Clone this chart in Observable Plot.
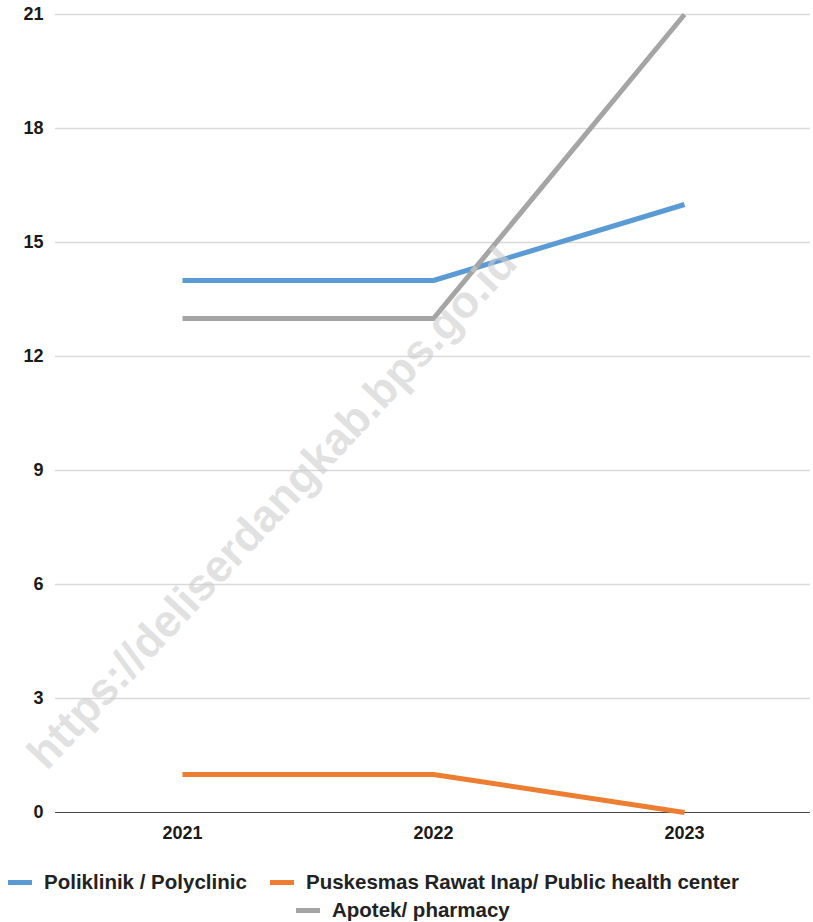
<!DOCTYPE html>
<html>
<head>
<meta charset="utf-8">
<script src="https://cdn.jsdelivr.net/npm/d3@7"></script>
<script src="https://cdn.jsdelivr.net/npm/@observablehq/plot@0.6"></script>
<style>
  html, body { margin: 0; padding: 0; background: #fff; }
  body { width: 813px; height: 922px; position: relative; overflow: hidden; font-family: "Liberation Sans", Arial, sans-serif; }
  #chart { position: absolute; left: 0; top: 0; }
  .item { position: absolute; display: flex; align-items: center; white-space: nowrap; font-weight: bold; font-size: 20.5px; color: #222; height: 26px; }
  .sw { width: 24px; height: 5px; margin-right: 12px; }
  #wm { position: absolute; left: 272px; top: 508px; transform: translate(-50%, -50%) rotate(-47deg);
        font-size: 45px; font-weight: bold; color: rgba(205,205,205,0.6); white-space: nowrap; font-family: "Liberation Sans", Arial, sans-serif; }
</style>
</head>
<body>
<div id="chart"></div>
<div id="legend"></div>
<div id="wm">https://deliserdangkab.bps.go.id</div>
<script>
const years = ["2021", "2022", "2023"];
const poliklinik = [14, 14, 16];
const puskesmas = [1, 1, 0];
const apotek = [13, 13, 21];
const seriesNames = ["Poliklinik / Polyclinic", "Puskesmas Rawat Inap/ Public health center", "Apotek/ pharmacy"];
const seriesColors = ["#5b9bd5", "#ed7d31", "#a5a5a5"];
const yTicks = [0, 3, 6, 9, 12, 15, 18, 21];

const seriesValues = [poliklinik, puskesmas, apotek];
const data = [];
seriesValues.forEach((vals, i) => vals.forEach((v, j) => data.push({ series: seriesNames[i], year: years[j], value: v })));

const drawOrder = [seriesNames[1], seriesNames[0], seriesNames[2]];

const plot = Plot.plot({
  width: 813,
  height: 855,
  marginTop: 14,
  marginBottom: 43,
  marginLeft: 55,
  marginRight: 3,
  style: { fontFamily: "Liberation Sans, Arial, sans-serif", fontSize: "18px", fontWeight: "bold", color: "#1a1a1a", background: "transparent" },
  x: { type: "point", domain: years, padding: 0.5, label: null },
  y: { domain: [0, 21], ticks: yTicks, label: null },
  color: { domain: seriesNames, range: seriesColors },
  marks: [
    Plot.gridY(yTicks.filter(d => d > 0), { stroke: "#d9d9d9", strokeOpacity: 1, strokeWidth: 1.3 }),
    Plot.ruleY([0], { stroke: "#444", strokeWidth: 1.2 }),
    Plot.axisY({ ticks: yTicks, tickSize: 0, tickPadding: 12, label: null, fontWeight: "bold", fontSize: 18 }),
    Plot.axisX({ tickSize: 0, tickPadding: 14, label: null, fontWeight: "bold", fontSize: 18 }),
    ...drawOrder.map(name => Plot.line(data.filter(d => d.series === name), {
      x: "year", y: "value", stroke: "series", strokeWidth: 5, strokeLinecap: "butt", strokeLinejoin: "round"
    }))
  ]
});
document.getElementById("chart").appendChild(plot);

const legend = document.getElementById("legend");
const legendPos = [[8, 869], [270, 869], [296, 897]];
seriesNames.forEach((name, i) => {
  const it = document.createElement("div");
  it.className = "item";
  it.style.left = legendPos[i][0] + "px";
  it.style.top = legendPos[i][1] + "px";
  const sw = document.createElement("span");
  sw.className = "sw";
  sw.style.background = seriesColors[i];
  const tx = document.createElement("span");
  tx.textContent = name;
  it.appendChild(sw); it.appendChild(tx);
  legend.appendChild(it);
});
</script>
</body>
</html>
